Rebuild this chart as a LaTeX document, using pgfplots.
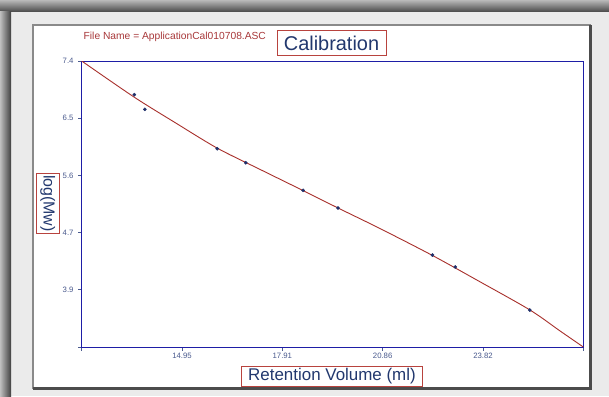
\documentclass[border=0pt]{standalone}
\usepackage{fontspec}
\setmainfont{Liberation Sans}
\usepackage{pgfplots}
\pgfplotsset{compat=1.18}
\definecolor{axisnavy}{HTML}{1E1EA6}
\definecolor{ticklab}{HTML}{4A5A8E}
\definecolor{curvered}{HTML}{A8302C}
\definecolor{dotnavy}{HTML}{1F2F6A}
\definecolor{labblue}{HTML}{22386E}
\definecolor{boxred}{HTML}{B8433E}
\definecolor{fnred}{HTML}{A8383A}
\definecolor{frameg}{HTML}{8A8A8A}

\begin{document}
\begin{tikzpicture}[x=1bp,y=1bp]
\useasboundingbox (0,0) rectangle (609,396);
% window backdrop
\fill[gray!16] (0,0) rectangle (609,396);
\shade[top color=gray!55, bottom color=black!72] (0,384) rectangle (609,396);
\shade[left color=gray!50, right color=black!75] (0,0) rectangle (11,384);
% white panel
\filldraw[fill=white, draw=frameg, line width=2.2bp] (33,8) rectangle (590,371);
\draw[gray!60!black, line width=3bp] (33,7.5) -- (590.5,7.5) -- (590.5,371);

\begin{axis}[
    at={(81.7bp,49bp)}, anchor=south west,
    scale only axis,
    width=501.6bp, height=286bp,
    xmin=12, xmax=26.775,
    ymin=2.975, ymax=7.4,
    axis line style={axisnavy, line width=0.9bp},
    xtick={12,14.955,17.91,20.865,23.82,26.775},
    xticklabels={,14.95,17.91,20.86,23.82,},
    ytick={2.975,3.86,4.745,5.63,6.515,7.4},
    yticklabels={,3.9,4.7,5.6,6.5,7.4},
    xtick pos=bottom, ytick pos=left,
    tick align=outside,
    major tick length=3.5bp,
    tick style={ticklab, line width=0.9bp},
    tick label style={font=\fontsize{7.8}{9}\selectfont, text=ticklab, inner sep=1bp},
    xticklabel style={yshift=-1bp},
    yticklabel style={xshift=-3.5bp},
]
% calibration fit
\addplot[curvered, line width=0.9bp, smooth, tension=0.5] coordinates {
    (12.000,7.400) (13.540,6.843) (14.748,6.448) (15.985,6.054)
    (17.252,5.723) (18.518,5.396) (19.549,5.126) (20.786,4.808)
    (22.318,4.395) (23.732,3.984) (25.205,3.547) (26.088,3.224)
    (26.775,2.975)
};
% standards
\addplot[only marks, mark=*, mark size=1.6bp, dotnavy] coordinates {
    (13.55,6.879) (13.86,6.653) (15.99,6.043) (16.83,5.826)
    (18.52,5.399) (19.55,5.126) (22.33,4.398) (23.00,4.213)
    (25.20,3.547)
};
\end{axis}

\node[anchor=base west, inner sep=0, text=fnred, font=\fontsize{10.3}{12}\selectfont]
    at (83.5,357) {File Name = ApplicationCal010708.ASC};
\node[draw=boxred, line width=1bp, text=labblue, inner sep=0,
    minimum width=109bp, minimum height=24bp, font=\fontsize{20}{22}\selectfont]
    at (331.5,353) {Calibration};
\node[draw=boxred, line width=1bp, text=labblue, inner sep=0,
    minimum width=181bp, minimum height=19.5bp, font=\fontsize{17}{19}\selectfont]
    at (332,19.7) {Retention Volume (ml)};
\node[draw=boxred, line width=1bp, text=labblue, inner sep=0, rotate=-90,
    minimum width=60.7bp, minimum height=22.7bp, font=\fontsize{16}{18}\selectfont]
    at (47.7,192.6) {log(Mw)};
\end{tikzpicture}
\end{document}
